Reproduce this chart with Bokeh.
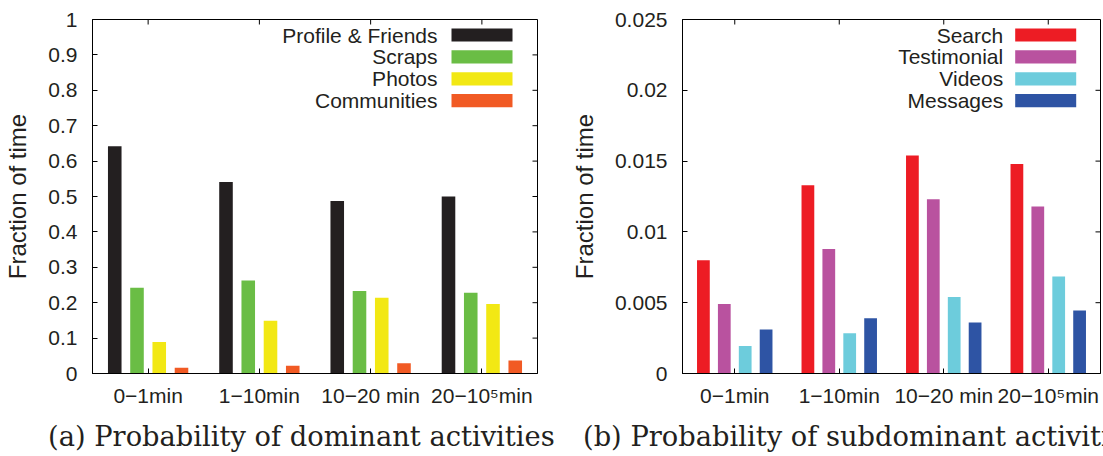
from bokeh.plotting import figure
from bokeh.models import (FactorRange, Range1d, FixedTicker, Label, BoxAnnotation,
                          ColumnDataSource, Div)
from bokeh.transform import dodge
from bokeh.layouts import row, column
from bokeh.embed import file_html
from bokeh.resources import INLINE

# ---------------- data ----------------
categories = ["0\u22121min", "1\u221210min", "10\u221220 min", "20\u221210\u2075min"]

# (a) dominant activities
dominant_names = ["Profile & Friends", "Scraps", "Photos", "Communities"]
profile_friends = [0.642, 0.541, 0.487, 0.500]
scraps = [0.242, 0.263, 0.233, 0.228]
photos = [0.089, 0.149, 0.214, 0.196]
communities = [0.016, 0.022, 0.029, 0.037]
dominant_colors = ["#231f20", "#6abd45", "#f2e814", "#f15a24"]

# (b) subdominant activities
sub_names = ["Search", "Testimonial", "Videos", "Messages"]
search = [0.0080, 0.0133, 0.0154, 0.0148]
testimonial = [0.0049, 0.0088, 0.0123, 0.0118]
videos = [0.00195, 0.00285, 0.0054, 0.00685]
messages = [0.0031, 0.0039, 0.0036, 0.00445]
sub_colors = ["#ed1c24", "#b9529f", "#6dccdc", "#2e54a4"]

left_ticks = [0, 0.1, 0.2, 0.3, 0.4, 0.5, 0.6, 0.7, 0.8, 0.9, 1.0]
left_tick_labels = ["0", "0.1", "0.2", "0.3", "0.4", "0.5", "0.6", "0.7", "0.8", "0.9", "1"]
right_ticks = [0, 0.005, 0.01, 0.015, 0.02, 0.025]
right_tick_labels = ["0", "0.005", "0.01", "0.015", "0.02", "0.025"]

captions = ["(a) Probability of dominant activities",
            "(b) Probability of subdominant activities"]

# ---------------- layout constants ----------------
H = 415          # figure height (captions live in a strip below)
CAP_H = 41
TOP = 19
FRAME_H = 354
OFFSETS = [-0.3, -0.1, 0.1, 0.3]
BAR_W = 0.122
TICK_LEN = 5
SANS = "Liberation Sans"
INK = "#231f20"


def make_panel(width, bl, br, frame_w, ymax, yticks, ylabels, series, names, colors,
               leg_text_right, leg_sw_left, leg_sw_right):
    p = figure(width=width, height=H,
               x_range=FactorRange(factors=categories, range_padding=0),
               y_range=Range1d(0, ymax),
               output_backend="svg", toolbar_location=None,
               min_border_left=bl, min_border_right=br,
               min_border_top=TOP, min_border_bottom=H - TOP - FRAME_H)
    p.outline_line_color = "black"
    p.outline_line_width = 1
    p.xgrid.grid_line_color = None
    p.ygrid.grid_line_color = None
    p.background_fill_color = "white"
    p.border_fill_color = "white"

    data = {"cat": categories}
    for i, s in enumerate(series):
        data[f"s{i}"] = s
    src = ColumnDataSource(data)
    for i, c in enumerate(colors):
        p.vbar(x=dodge("cat", OFFSETS[i], range=p.x_range), top=f"s{i}", width=BAR_W,
               source=src, fill_color=c, line_color=None)

    # axes
    xa = p.xaxis[0]
    xa.major_tick_in = TICK_LEN
    xa.major_tick_out = 0
    xa.axis_line_color = "black"
    xa.major_tick_line_color = "black"
    xa.major_label_text_font = SANS
    xa.major_label_text_font_size = "21px"
    xa.major_label_text_color = INK
    xa.major_label_standoff = 10

    ya = p.yaxis[0]
    ya.ticker = FixedTicker(ticks=yticks)
    ya.major_label_overrides = {t: l for t, l in zip(yticks, ylabels)}
    ya.minor_tick_line_color = None
    ya.major_tick_in = TICK_LEN
    ya.major_tick_out = 0
    ya.axis_line_color = "black"
    ya.major_tick_line_color = "black"
    ya.major_label_text_font = SANS
    ya.major_label_text_font_size = "21px"
    ya.major_label_text_color = INK
    ya.major_label_standoff = 15
    ya.axis_label = "Fraction of time"
    ya.axis_label_text_font = SANS
    ya.axis_label_text_font_size = "24px"
    ya.axis_label_text_font_style = "normal"
    ya.axis_label_text_color = INK
    ya.axis_label_standoff = 14

    # mirrored tick marks on top and right border (gnuplot style)
    dy = TICK_LEN / FRAME_H * ymax
    p.segment(x0=categories, y0=[ymax] * len(categories), x1=categories,
              y1=[ymax - dy] * len(categories), line_color="black", line_width=1)
    xend = float(len(categories))
    dx = TICK_LEN / frame_w * xend
    p.segment(x0=[xend] * len(yticks), y0=yticks, x1=[xend - dx] * len(yticks), y1=yticks,
              line_color="black", line_width=1)

    # legend (text right-aligned, swatch on the right)
    xpu = frame_w / xend
    for i, (n, c) in enumerate(zip(names, colors)):
        yc = 15.5 + 21.9 * i
        y_mid = ymax - yc / FRAME_H * ymax
        y_top = ymax - (yc - 6.6) / FRAME_H * ymax
        y_bot = ymax - (yc + 6.6) / FRAME_H * ymax
        p.add_layout(BoxAnnotation(left=leg_sw_left / xpu, right=leg_sw_right / xpu,
                                   top=y_top, bottom=y_bot, fill_color=c, fill_alpha=1,
                                   line_color=None, level="overlay"))
        p.add_layout(Label(x=leg_text_right / xpu, y=y_mid, text=n, text_align="right",
                           text_baseline="middle", text_font=SANS, text_font_size="21px",
                           text_color=INK))
    return p


W1 = 560
p1 = make_panel(W1, 92, W1 - 92 - 445, 445, 1.0, left_ticks, left_tick_labels,
                [profile_friends, scraps, photos, communities], dominant_names, dominant_colors,
                345, 359, 420)
W2 = 1103 - W1
p2 = make_panel(W2, 682 - W1, W2 - (682 - W1) - 418, 418, 0.025, right_ticks, right_tick_labels,
                [search, testimonial, videos, messages], sub_names, sub_colors,
                320.7, 332.7, 393.7)

# captions strip (sub-figure captions, clipped at the right edge like the original page)
cap_left = [48, 583]
spans = "".join(
    f'<span style="position:absolute;left:{x}px;top:8px;white-space:nowrap;'
    f"font-family:'DejaVu Serif';font-size:27.3px;line-height:27px;color:{INK};\">{t}</span>"
    for x, t in zip(cap_left, captions))
cap_html = (f'<div style="position:relative;width:{W1 + W2}px;height:{CAP_H}px;'
            f'overflow:hidden;background:white;">{spans}</div>')
cap = Div(text=cap_html, width=W1 + W2, height=CAP_H, margin=(0, 0, 0, 0))

layout = column(row(p1, p2), cap)
open("out.html", "w").write(file_html(layout, INLINE))
